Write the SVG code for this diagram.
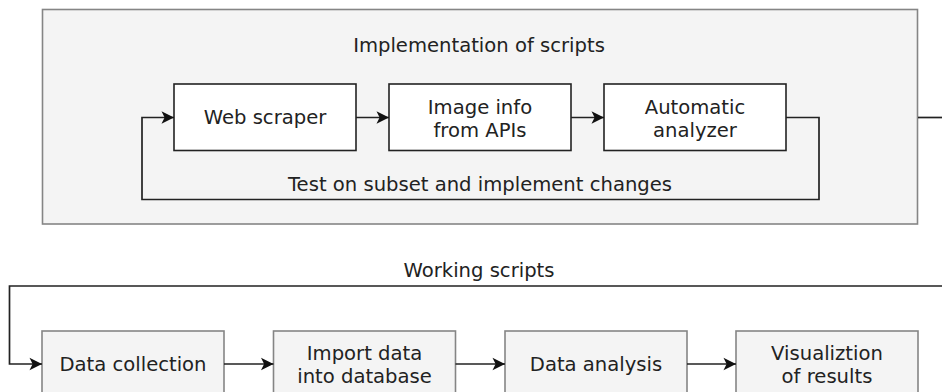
<svg xmlns="http://www.w3.org/2000/svg" width="942" height="392" viewBox="0 0 942 392">
<style>
text{font-family:"DejaVu Sans",Verdana,sans-serif;font-size:19.6px;fill:#222;text-anchor:middle}
.group{fill:#f4f4f4;stroke:#858585;stroke-width:1.6}
.inner{fill:#ffffff;stroke:#222;stroke-width:1.6}
.step{fill:#f4f4f4;stroke:#858585;stroke-width:1.6}
.conn{fill:none;stroke:#222;stroke-width:1.7}
</style>
<defs>
<marker id="arr" markerUnits="userSpaceOnUse" markerWidth="14" markerHeight="14" viewBox="0 0 14 14" refX="13" refY="7" orient="auto">
<path d="M0.5,0.8 L13,7 L0.5,13.2 L3.6,7 Z" fill="#111"/>
</marker>
</defs>
<g id="implementation">
<rect class="group" x="42.5" y="9.5" width="875" height="214.5"/>
<text x="479" y="52">Implementation of scripts</text>
</g>
<g id="web-scraper">
<rect class="inner" x="174" y="84" width="182" height="66.5"/>
<text x="265" y="124">Web scraper</text>
</g>
<g id="image-info">
<rect class="inner" x="389" y="84" width="182" height="66.5"/>
<text x="480" y="114">Image info</text>
<text x="480" y="137">from APIs</text>
</g>
<g id="automatic-analyzer">
<rect class="inner" x="604" y="84" width="182" height="66.5"/>
<text x="695" y="114">Automatic</text>
<text x="695" y="137">analyzer</text>
</g>
<g id="data-collection">
<rect class="step" x="42" y="331" width="182" height="66"/>
<text x="133" y="371">Data collection</text>
</g>
<g id="import-data">
<rect class="step" x="273.5" y="331" width="182" height="66"/>
<text x="364.5" y="360">Import data</text>
<text x="364.5" y="383">into database</text>
</g>
<g id="data-analysis">
<rect class="step" x="505" y="331" width="182" height="66"/>
<text x="596" y="371">Data analysis</text>
</g>
<g id="visualization">
<rect class="step" x="736" y="331" width="182" height="66"/>
<text x="827" y="360">Visualiztion</text>
<text x="827" y="383">of results</text>
</g>
<g id="connectors">
<path class="conn" d="M356,117.5 H389" marker-end="url(#arr)"/>
<path class="conn" d="M571,117.5 H604" marker-end="url(#arr)"/>
<path class="conn" d="M786,117.5 H819 V199.5 H142 V117.5 H174" marker-end="url(#arr)"/>
<text x="480" y="191">Test on subset and implement changes</text>
<path class="conn" d="M918,117.5 H942"/>
<path class="conn" d="M942,286 H9.5 V364 H42" marker-end="url(#arr)"/>
<text x="479" y="276.5">Working scripts</text>
<path class="conn" d="M224,364 H273.5" marker-end="url(#arr)"/>
<path class="conn" d="M455.5,364 H505" marker-end="url(#arr)"/>
<path class="conn" d="M687,364 H736" marker-end="url(#arr)"/>
</g>
</svg>
